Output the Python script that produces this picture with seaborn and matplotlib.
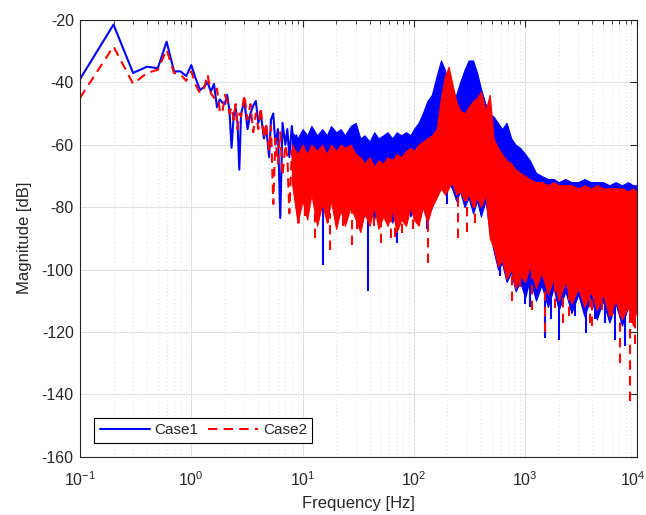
import numpy as np
import pandas as pd
import matplotlib
matplotlib.use("Agg")
import matplotlib.pyplot as plt
import matplotlib.ticker as mticker
import matplotlib.transforms as mtrans
import seaborn as sns

# ---------------- data ----------------
f_lf = [0.1, 0.2, 0.3, 0.4, 0.5, 0.6, 0.7, 0.8, 0.9, 1.0,
        1.1, 1.2, 1.3, 1.4, 1.5, 1.6, 1.7, 1.8, 1.9, 2.0,
        2.1, 2.2, 2.3, 2.4, 2.5, 2.6, 2.7, 2.8, 3.0, 3.2,
        3.4, 3.6, 3.8, 4.0, 4.2, 4.5, 4.7, 5.0, 5.2, 5.45,
        5.7, 6.0, 6.3, 6.6, 7.0, 7.3, 7.6, 8.0, 8.4, 8.8,
        9.2, 9.6, 10.0]
case1_lf = [-39, -21.5, -37, -35, -35.5, -27, -36.5, -36.5, -38, -34.5,
            -39, -42.5, -41.5, -40, -43, -40.5, -48, -45.5, -46.5, -47,
            -44, -49, -61, -51, -48, -53, -68, -50, -46, -55,
            -50, -47.5, -46, -53, -50, -58, -54, -64, -52, -50,
            -60, -55, -83.5, -53, -60, -55, -64, -54, -62, -57,
            -66, -58, -62]
case2_lf = [-45, -28.5, -40.5, -37, -36, -29.5, -37, -37.5, -39.5, -36.5,
            -41, -43.5, -42, -37.5, -43.5, -45, -42, -49, -50, -44,
            -46, -50, -48, -52, -47, -55, -50, -51, -44, -52,
            -47, -56, -50, -55, -48, -58, -53, -62, -54, -79,
            -58, -66, -56, -70, -60, -64, -82, -62, -72, -64,
            -85, -68, -75]

band_f = [8, 9, 10, 11, 12, 13.5, 15, 16.5, 18, 20,
          22, 24, 27, 30, 33, 36, 40, 44, 48, 53,
          58, 64, 70, 77, 85, 93, 100, 110, 120, 132,
          145, 160, 175, 190, 205, 220, 240, 260, 285, 310,
          340, 370, 400, 440, 480, 520, 570, 620, 680, 750,
          820, 900, 1000, 1100, 1250, 1400, 1600, 1800, 2000, 2300,
          2600, 3000, 3400, 3900, 4400, 5000, 5700, 6500, 7400, 8400,
          9300, 10000]
case1_hi = [-56, -58, -55, -57, -54, -57, -55, -57, -54, -56,
            -55, -57, -54, -53, -58, -57, -59, -56, -58, -57,
            -56, -58, -56, -57, -56, -57, -55, -53, -50, -46,
            -44, -38, -33, -36, -43, -46, -44, -40, -36, -33,
            -33, -37, -42, -47, -50, -51, -53, -55, -53, -58,
            -60, -61, -63, -65, -69, -70, -71, -71, -72, -71,
            -72, -72, -71, -72, -72, -72, -73, -72, -73, -72,
            -73, -73]
case1_lo = [-66, -74, -70, -78, -72, -80, -74, -82, -76, -80,
            -74, -82, -76, -80, -75, -83, -78, -84, -77, -82,
            -78, -85, -79, -84, -78, -83, -80, -85, -80, -84,
            -80, -76, -73, -75, -72, -74, -78, -75, -80, -77,
            -82, -78, -83, -78, -88, -94, -100, -98, -104, -101,
            -107, -104, -109, -103, -110, -105, -112, -106, -113, -107,
            -114, -108, -115, -109, -116, -110, -117, -111, -118, -112,
            -117, -110]
case2_hi = [-60, -63, -60, -63, -60, -62, -60, -63, -60, -62,
            -60, -61, -60, -63, -64, -66, -64, -67, -65, -66,
            -64, -65, -63, -64, -62, -61, -62, -60, -59, -58,
            -57, -55, -45, -38, -35, -40, -46, -49, -50, -48,
            -46, -45, -43, -49, -44, -58, -61, -63, -65, -66,
            -68, -69, -70, -71, -72, -72, -73, -72, -73, -73,
            -73, -74, -73, -74, -73, -74, -74, -74, -74, -75,
            -74, -75]
case2_lo = [-72, -85, -78, -84, -76, -86, -79, -85, -78, -87,
            -81, -86, -80, -84, -88, -82, -86, -80, -87, -83,
            -86, -81, -88, -84, -86, -80, -84, -86, -80, -85,
            -80, -77, -74, -76, -74, -72, -76, -75, -78, -76,
            -80, -77, -80, -76, -90, -93, -99, -97, -103, -100,
            -106, -102, -104, -99, -106, -101, -108, -103, -110, -104,
            -111, -106, -112, -107, -113, -108, -115, -110, -116, -112,
            -118, -113]

c1_spk_f = [15.3, 38.5, 71, 130, 200, 590, 1000, 1100, 1500, 1700, 2000,
            2800, 3500, 4200, 5200, 6400, 7900, 9800]
c1_spk_lo = [-98.5, -107, -91.5, -87, -79, -102, -111, -112, -122, -116, -122.5,
             -115, -120.5, -116, -117, -122.5, -124.5, -114]
c1_spk_hi = [-75, -78, -80, -80, -72, -95, -100, -100, -108, -105, -108,
             -106, -110, -108, -108, -112, -112, -105]

c2_spk_f = [10.5, 13, 17, 17.7, 23, 28, 30.5, 44, 50.8, 62, 68, 78, 98,
            133, 250, 300, 354, 760, 900, 1150, 1500, 1870, 2200, 2450,
            3800, 4000, 4900, 6000, 7100, 8700, 9100, 9600]
c2_spk_lo = [-83, -90, -85, -93.7, -86, -92, -87, -86, -91.6, -90, -89.5, -88.4, -87,
             -98, -90, -88, -85, -110, -105.5, -113, -120, -112.4, -117, -115,
             -117, -118, -113, -115, -130, -142, -117, -124]
c2_spk_hi = [-75, -80, -78, -82, -78, -80, -78, -80, -82, -82, -80, -80, -80,
             -84, -74, -76, -77, -100, -98, -100, -105, -104, -108, -106,
             -108, -110, -105, -108, -112, -114, -110, -114]

series_names = ["Case1", "Case2"]
x_ticks = [0.1, 1, 10, 100, 1000, 10000]
y_ticks = [-160, -140, -120, -100, -80, -60, -40, -20]

# ---------------- style ----------------
sns.set_theme(style="white")
plt.rcParams["font.family"] = ["Liberation Sans", "DejaVu Sans"]
plt.rcParams["mathtext.fontset"] = "custom"
plt.rcParams["mathtext.rm"] = "Liberation Sans"
plt.rcParams["mathtext.it"] = "Liberation Sans:italic"
plt.rcParams["axes.unicode_minus"] = False

BLUE = (0, 0, 1)
RED = (1, 0, 0)
DARK = (0.15, 0.15, 0.15)
dash = (0, (4.5, 3))

fig = plt.figure(figsize=(6.46, 5.15), dpi=100)
ax = fig.add_axes([80 / 646, 1 - 456.7 / 515, 556.5 / 646, 436.8 / 515])

df1 = pd.DataFrame({"f": f_lf, "mag": case1_lf})
df2 = pd.DataFrame({"f": f_lf, "mag": case2_lf})

# Case1 (blue) first
ax.fill_between(band_f, case1_lo, case1_hi, color=BLUE, lw=0.8, zorder=2)
ax.vlines(c1_spk_f, c1_spk_lo, c1_spk_hi, color=BLUE, lw=1.5, zorder=2)
sns.lineplot(data=df1, x="f", y="mag", ax=ax, color=BLUE, lw=1.5,
             label=series_names[0], sort=False, zorder=2.5)

# Case2 (red) on top
ax.fill_between(band_f, case2_lo, case2_hi, color=RED, lw=0.8, zorder=3)
ax.vlines(c2_spk_f, c2_spk_lo, c2_spk_hi, color=RED, lw=1.5,
          linestyles=[dash], zorder=3)
sns.lineplot(data=df2, x="f", y="mag", ax=ax, color=RED, lw=1.5,
             linestyle=dash, label=series_names[1], sort=False, zorder=3.5)

ax.set_xscale("log")
ax.set_xlim(0.1, 10000)
ax.set_ylim(-160, -20)
ax.set_xticks(x_ticks)
ax.set_yticks(y_ticks)
ax.xaxis.set_minor_locator(mticker.LogLocator(base=10, subs=np.arange(2, 10), numticks=20))
ax.xaxis.set_minor_formatter(mticker.NullFormatter())

ax.set_axisbelow(True)
ax.grid(True, which="major", axis="both", color=(0.88, 0.88, 0.88), lw=0.8, ls="-")
ax.grid(True, which="minor", axis="x", color=(0.8, 0.8, 0.8), lw=0.6, ls=(0, (1, 3.5)))

for s in ax.spines.values():
    s.set_color(DARK)
    s.set_linewidth(0.8)
    s.set_visible(True)
    s.set_zorder(5)

ax.tick_params(which="both", direction="in", top=True, right=True, colors=DARK,
               labelcolor=DARK)
ax.tick_params(which="major", length=5, width=0.8, labelsize=11.5)
ax.tick_params(which="minor", length=3, width=0.6)
ax.tick_params(axis="x", which="major", pad=10)
ax.tick_params(axis="y", which="major", pad=4.5)

# keep the last x tick label inside the canvas
last_lbl = ax.get_xticklabels()[-1]
last_lbl.set_transform(last_lbl.get_transform() +
                       mtrans.ScaledTranslation(-4 / 100, 0, fig.dpi_scale_trans))

ax.set_xlabel("Frequency [Hz]", fontsize=12, color=DARK, labelpad=5)
ax.set_ylabel("Magnitude [dB]", fontsize=12, color=DARK, labelpad=7)

leg = ax.legend(loc="lower left", bbox_to_anchor=(0.0257, 0.032), borderaxespad=0,
                ncol=2, fontsize=11, frameon=True, fancybox=False, framealpha=1,
                edgecolor="black", handlelength=3.3, handletextpad=0.3,
                columnspacing=0.6, borderpad=0.35)
leg.get_frame().set_linewidth(0.8)
for t in leg.get_texts():
    t.set_color(DARK)

fig.savefig("out.png", dpi=100)
